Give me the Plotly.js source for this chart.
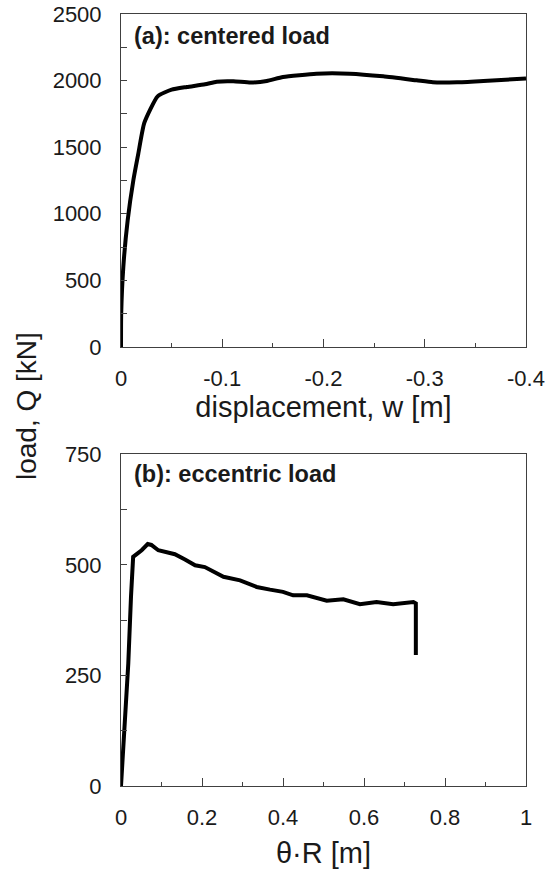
<!DOCTYPE html>
<html>
<head>
<meta charset="utf-8">
<script src="https://cdn.plot.ly/plotly-3.0.1.min.js"></script>
<style>html,body{margin:0;padding:0;background:#fff;}#chart{width:555px;height:872px;}</style>
</head>
<body>
<div id="chart"></div>
<script>
// (a) centered load: displacement w [m] vs load Q [kN]
const wCentered = [0, -0.0002, -0.0023, -0.0066, -0.0122, -0.0171, -0.023, -0.0362, -0.050, -0.065, -0.083, -0.0945, -0.111, -0.128, -0.144, -0.160, -0.193, -0.226, -0.259, -0.292, -0.308, -0.332, -0.358, -0.4];
const qCentered = [-30, 252, 602, 952, 1252, 1452, 1682, 1882, 1932, 1952, 1972, 1992, 1995, 1985, 1997, 2027, 2052, 2052, 2032, 2002, 1987, 1987, 1997, 2015];

// (b) eccentric load: theta*R [m] vs load Q [kN]
const thetaR = [0, 0.0082, 0.018, 0.0247, 0.030, 0.0427, 0.051, 0.066, 0.075, 0.092, 0.133, 0.158, 0.183, 0.207, 0.253, 0.294, 0.335, 0.368, 0.40, 0.425, 0.459, 0.508, 0.549, 0.59, 0.631, 0.672, 0.722, 0.728, 0.728];
const qEccentric = [0, 126, 277, 428, 518, 527, 533, 547, 545, 533, 524, 512, 499, 495, 473, 465, 450, 444, 439, 431, 431, 419, 422, 411, 416, 411, 416, 413, 296];

// tick labels
const xTopTickVals = [0, -0.1, -0.2, -0.3, -0.4];
const xTopTickText = ['0', '-0.1', '-0.2', '-0.3', '-0.4'];
const xBotTickVals = [0, 0.2, 0.4, 0.6, 0.8, 1];
const xBotTickText = ['0', '0.2', '0.4', '0.6', '0.8', '1'];
const yTopTickVals = [0, 500, 1000, 1500, 2000, 2500];
const yBotTickVals = [0, 250, 500, 750];

const FONT = 'Liberation Sans, Arial, sans-serif';
const TXT = '#1a1a1a';
const AX = '#404040';

const traces = [
  {x: wCentered, y: qCentered, xaxis: 'x', yaxis: 'y', mode: 'lines',
   line: {color: '#000', width: 4, shape: 'spline', smoothing: 0.5}, cliponaxis: false, showlegend: false, hoverinfo: 'skip'},
  {x: thetaR, y: qEccentric, xaxis: 'x2', yaxis: 'y2', mode: 'lines',
   line: {color: '#000', width: 4, shape: 'linear'}, showlegend: false, hoverinfo: 'skip'}
];

const axBase = {
  showline: true, mirror: true, linecolor: AX, linewidth: 1,
  showgrid: false, zeroline: false, ticks: 'inside', tickcolor: AX, tickwidth: 1,
  tickfont: {family: FONT, size: 22, color: TXT}
};

const layout = {
  width: 555, height: 872,
  margin: {l: 121, r: 29, t: 14, b: 86},
  paper_bgcolor: '#fff', plot_bgcolor: '#fff',
  font: {family: FONT, color: TXT},
  xaxis: Object.assign({}, axBase, {
    domain: [0, 1], anchor: 'y', range: [0, -0.4],
    tickmode: 'array', tickvals: xTopTickVals, ticktext: xTopTickText,
    ticklen: 8, ticklabelstandoff: 12,
    minor: {tickmode: 'linear', tick0: 0, dtick: 0.05, ticklen: 4, tickcolor: AX, ticks: 'inside'},
    title: {text: 'displacement, w [m]', font: {family: FONT, size: 29, color: TXT}, standoff: 6}
  }),
  yaxis: Object.assign({}, axBase, {
    domain: [0.5687, 1], anchor: 'x', range: [0, 2500],
    tickmode: 'array', tickvals: yTopTickVals, ticklen: 6, ticklabelstandoff: 14,
    minor: {tickmode: 'linear', tick0: 0, dtick: 250, ticklen: 6, tickcolor: AX, ticks: 'inside'}
  }),
  xaxis2: Object.assign({}, axBase, {
    domain: [0, 1], anchor: 'y2', range: [0, 1],
    tickmode: 'array', tickvals: xBotTickVals, ticktext: xBotTickText,
    ticklen: 8, ticklabelstandoff: 12,
    minor: {tickmode: 'linear', tick0: 0, dtick: 0.1, ticklen: 4, tickcolor: AX, ticks: 'inside'},
    title: {text: 'θ·R [m]', font: {family: FONT, size: 29, color: TXT}, standoff: 13}
  }),
  yaxis2: Object.assign({}, axBase, {
    domain: [0, 0.4297], anchor: 'x2', range: [0, 750],
    tickmode: 'array', tickvals: yBotTickVals, ticklen: 6, ticklabelstandoff: 14,
    minor: {tickmode: 'linear', tick0: 0, dtick: 125, ticklen: 6, tickcolor: AX, ticks: 'inside'}
  }),
  annotations: [
    {text: '<b>(a): centered load</b>', xref: 'x domain', yref: 'y domain', x: 0.027, y: 0.934,
     xanchor: 'left', yanchor: 'middle', showarrow: false, font: {family: FONT, size: 23.5, color: TXT}},
    {text: '<b>(b): eccentric load</b>', xref: 'x2 domain', yref: 'y2 domain', x: 0.027, y: 0.94,
     xanchor: 'left', yanchor: 'middle', showarrow: false, font: {family: FONT, size: 23.5, color: TXT}},
    {text: 'load, Q [kN]', xref: 'paper', yref: 'paper', x: -0.2346, y: 0.4922,
     xanchor: 'center', yanchor: 'middle', textangle: -90, showarrow: false,
     font: {family: FONT, size: 28, color: TXT}}
  ]
};

Plotly.newPlot('chart', traces, layout, {staticPlot: true, displayModeBar: false});
</script>
</body>
</html>
